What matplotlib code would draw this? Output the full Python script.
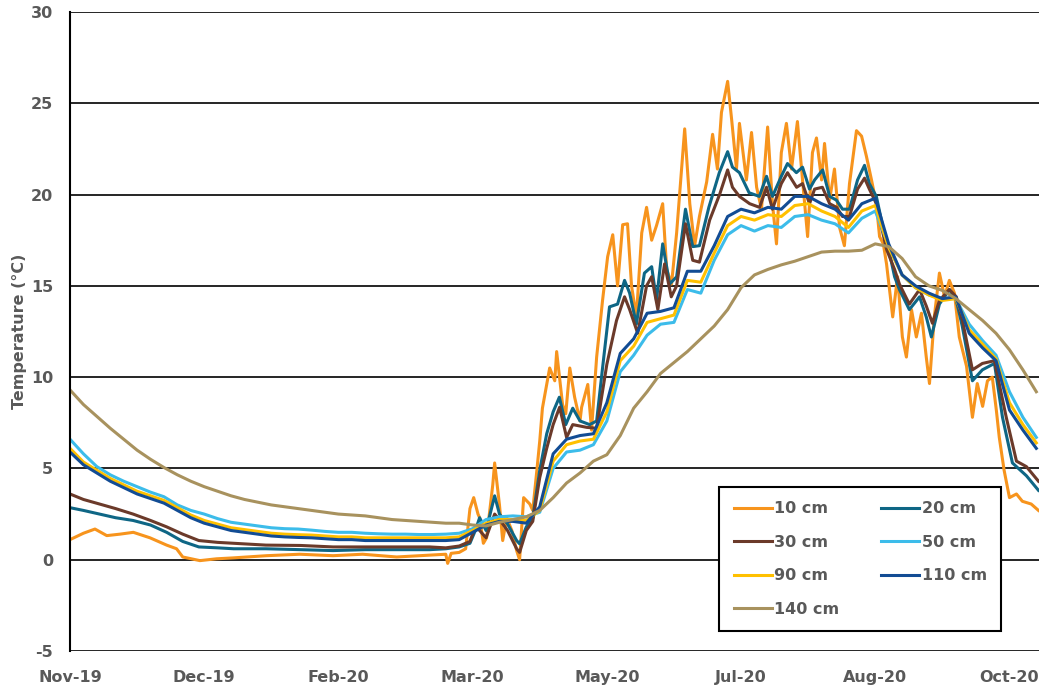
import matplotlib
matplotlib.use('Agg')
import matplotlib.pyplot as plt
import matplotlib.dates as mdates
import numpy as np
from datetime import datetime, timedelta

start = datetime(2019, 11, 1)

# shallow sensors: (day since 1 Nov 2019, temperature)
t10 = [0, 5, 9.3, 13.7, 18.6, 23.6, 29.8, 36, 39.7, 42, 48.4, 54.6, 60.8, 73.2, 85.6, 98, 109, 121.7, 134, 140,
       140.7, 142, 145, 147.4, 149, 150.4, 152, 152.6, 154, 155.2, 157.5, 158.2, 160, 161.2, 162.7, 164.6, 166.4,
       167.5, 169, 171.3, 172.4, 174, 175, 176, 178.7, 180.6, 181.3, 183.5, 184.7, 186.2, 188, 190, 190.6, 192.9,
       194.3, 196.2, 198.4, 200.3, 202.2, 204, 205.9, 207.7, 209.2, 211, 213, 214.8, 216.7, 218.5, 220.8, 222.3,
       224.1, 226, 229, 230.9, 232.7, 234.5, 237.2, 239.4, 241.2, 242.7, 245, 246.5, 248.3, 249.4, 252, 253.9,
       255.8, 257.6, 259.9, 261.7, 263.2, 265, 266.9, 268.8, 271, 272.9, 274.8, 276.6, 278.1, 280, 281.1, 283,
       284.8, 286.7, 288.5, 290.4, 293, 294.9, 296.7, 298.6, 300.4, 301.6, 303, 304.2, 305.3, 306.5, 308.3, 310.1,
       311.6, 313.5, 315.3, 317.2, 319, 320.2, 322, 323.9, 325.8, 327.6, 329.5, 331.3, 334, 336.2, 338, 340, 341.8,
       343.6, 345.1, 346.2, 348, 350, 352.6, 354.8, 358.1, 360.8]
v10 = [1.1, 1.45, 1.68, 1.32, 1.4, 1.5, 1.2, 0.8, 0.6, 0.15, -0.05, 0.05, 0.1, 0.22, 0.3, 0.22, 0.3, 0.15, 0.25, 0.3,
       -0.2, 0.35, 0.4, 0.6, 2.8, 3.4, 2.5, 2.3, 0.9, 1.2, 4.1, 5.3, 3.0, 1.05, 2.3, 1.6, 0.5,
       0.0, 3.4, 3.05, 2.7, 5.0, 6.5, 8.3, 10.5, 9.8, 11.4, 8.5, 8.0, 10.5, 8.9, 7.6, 8.35, 9.6,
       7.1, 11.1, 14.2, 16.6, 17.8, 15.0, 18.35, 18.4, 15.0, 13.3, 17.9, 19.3, 17.5, 18.3, 19.5, 15.9,
       15.1, 17.9, 23.6, 19.5, 17.2, 18.8, 20.7, 23.3, 21.4, 24.5, 26.2, 24.1, 21.4, 23.9, 20.8, 23.4,
       20.4, 19.2, 23.7, 19.5, 17.3, 22.3, 23.9, 21.4, 24.0, 20.8, 17.7, 22.3, 23.1, 20.8, 22.8, 19.7,
       21.4, 18.2, 17.2, 20.6, 23.5, 23.2, 22.1, 20.8, 19.5, 17.7, 17.3, 16.2, 14.8, 13.3, 15.5, 12.2,
       11.1, 13.7, 12.2, 13.5, 11.1, 9.65, 13.3, 15.7, 14.4, 15.3, 14.6, 12.2, 10.6, 7.8, 9.65, 8.4, 9.8,
       10.0, 8.2, 6.7, 4.9, 3.4, 3.6, 3.2, 3.05, 2.7]

t20 = [0, 5, 11, 17, 23.5, 30, 36, 42, 48, 55, 61, 73, 86, 98, 110, 122, 134, 140, 145, 149,
       151, 152.6, 155, 158.2, 160, 163, 166.4, 167.5, 170, 172.4, 175, 177.6, 180, 182.3, 184.7, 187.3, 190,
       193.6, 196.2, 198.4, 201, 204, 206.6, 208.5, 211, 214, 216.7, 218.5, 220.8, 223.4, 226, 229.3, 232,
       234.5, 238, 241.9, 245, 246.8, 249.4, 253, 256.8, 259.5, 261.7, 265, 267.3, 270.6, 272.9, 275.5, 277.4,
       280.4, 283, 285.5, 287.8, 290.4, 293.4, 296, 297.8, 300.4, 304.2, 305.3, 307.2, 309, 312.7, 316.5, 319,
       320.9, 323.9, 327.6, 330.2, 332.4, 336.2, 339.9, 344.4, 347.4, 351.1, 356.3, 360.8]
v20 = [2.85, 2.7, 2.5, 2.3, 2.15, 1.9, 1.5, 1.0, 0.7, 0.65, 0.6, 0.6, 0.55, 0.5, 0.55, 0.55, 0.55, 0.6, 0.7, 0.9,
       1.6, 2.3, 1.6, 3.5, 2.5, 1.96, 1.05, 0.87, 1.8, 2.3, 4.9, 6.9, 8.1, 8.9, 7.4, 8.3, 7.6,
       7.4, 7.6, 10.5, 13.85, 14.0, 15.3, 14.6, 12.9, 15.7, 16.05, 14.2, 17.3, 15.1, 15.5, 19.2, 17.15,
       17.2, 19.3, 21.2, 22.35, 21.5, 21.2, 20.1, 19.9, 21.0, 19.9, 21.0, 21.7, 21.2, 21.5, 20.3, 20.8,
       21.35, 19.9, 19.7, 19.2, 19.2, 20.8, 21.6, 20.6, 19.9, 17.3, 16.8, 15.5, 14.8, 13.7, 14.4, 13.3,
       12.2, 14.0, 14.8, 14.2, 12.8, 9.8, 10.4, 10.75, 7.8, 5.3, 4.6, 3.8]

t30 = [0, 5, 11, 17, 23.5, 30, 36, 42, 48, 55, 61, 73, 86, 98, 110, 122, 134, 140, 145, 149,
       151, 152.6, 155, 158.2, 160, 163, 166.4, 167.5, 170, 172.4, 175, 177.6, 180, 182.4, 185, 187.3, 192.5,
       196.2, 200, 203.6, 206.6, 208.5, 211.5, 214.8, 216.7, 219, 221.5, 224, 226, 229.3, 232, 234.5, 238.3,
       242, 245, 246.8, 249.4, 253.2, 256.9, 259.5, 261.7, 265, 267.3, 270.7, 272.9, 275.5, 277.4, 280.3, 283,
       285.6, 287.8, 290.4, 293.4, 296, 297.8, 300.4, 304.2, 307.2, 309, 312.7, 316.5, 319, 321.3, 323.9, 327.6,
       330.2, 332.5, 336.2, 339.9, 344.4, 348.8, 352.6, 356.3, 360.8]
v30 = [3.6, 3.3, 3.05, 2.8, 2.5, 2.15, 1.8, 1.4, 1.05, 0.95, 0.9, 0.8, 0.78, 0.7, 0.7, 0.7, 0.7, 0.65, 0.75, 1.0,
       1.8, 1.6, 1.2, 2.5, 2.2, 1.6, 0.6, 0.4, 1.6, 2.1, 4.5, 6.1, 7.4, 8.35, 6.7, 7.4, 7.25,
       7.2, 10.7, 13.1, 14.4, 13.7, 12.4, 15.0, 15.5, 13.7, 16.2, 14.4, 15.0, 18.4, 16.4, 16.3, 18.6,
       20.0, 21.35, 20.4, 19.9, 19.5, 19.3, 20.4, 19.2, 20.6, 21.2, 20.4, 20.6, 19.5, 20.3, 20.4, 19.5,
       19.3, 18.8, 18.8, 20.3, 20.9, 20.3, 19.5, 17.0, 15.9, 15.1, 14.0, 14.8, 13.9, 12.95, 14.2, 14.8,
       14.4, 13.1, 10.4, 10.75, 10.9, 7.8, 5.4, 5.1, 4.3]

# deeper sensors, every 5 days
t_deep = list(range(0, 361, 5))
v50 = [6.6, 5.8, 5.1, 4.65, 4.3, 4.0, 3.7, 3.45, 3.0, 2.7,
       2.5, 2.25, 2.05, 1.95, 1.85, 1.75, 1.7, 1.68, 1.62, 1.55,
       1.5, 1.5, 1.45, 1.42, 1.4, 1.4, 1.38, 1.38, 1.4, 1.45,
       1.7, 2.2, 2.35, 2.4, 2.35, 2.6, 5.0, 5.9, 6.0, 6.3,
       7.6, 10.3, 11.2, 12.3, 12.9, 13.0, 14.8, 14.6, 16.4, 17.8,
       18.3, 18.0, 18.3, 18.2, 18.8, 18.9, 18.6, 18.4, 17.9, 18.7,
       19.1, 17.2, 15.6, 14.9, 14.5, 14.3, 14.3, 12.9, 12.0, 11.2,
       9.2, 7.8, 6.7]
v90 = [6.1, 5.35, 4.9, 4.45, 4.1, 3.75, 3.5, 3.25, 2.85, 2.45,
       2.15, 1.95, 1.75, 1.65, 1.55, 1.45, 1.4, 1.37, 1.35, 1.3,
       1.25, 1.25, 1.2, 1.2, 1.2, 1.2, 1.2, 1.2, 1.2, 1.25,
       1.6, 2.0, 2.2, 2.2, 2.15, 2.7, 5.4, 6.3, 6.5, 6.6,
       8.1, 10.9, 11.7, 13.0, 13.2, 13.4, 15.3, 15.2, 16.8, 18.3,
       18.8, 18.6, 18.9, 18.8, 19.4, 19.5, 19.1, 18.8, 18.2, 19.1,
       19.4, 17.1, 15.6, 14.9, 14.5, 14.2, 14.3, 12.6, 11.8, 11.0,
       8.6, 7.4, 6.4]
v110 = [5.9, 5.2, 4.75, 4.3, 3.95, 3.6, 3.35, 3.1, 2.7, 2.3,
        2.0, 1.8, 1.6, 1.5, 1.4, 1.3, 1.25, 1.22, 1.2, 1.15,
        1.1, 1.1, 1.05, 1.05, 1.05, 1.05, 1.05, 1.05, 1.05, 1.1,
        1.5, 1.9, 2.1, 2.1, 2.0, 2.9, 5.8, 6.6, 6.8, 6.9,
        8.6, 11.3, 12.1, 13.5, 13.6, 13.8, 15.8, 15.8, 17.2, 18.8,
        19.2, 19.0, 19.3, 19.2, 19.9, 19.9, 19.5, 19.2, 18.6, 19.5,
        19.8, 17.3, 15.6, 15.0, 14.6, 14.3, 14.4, 12.4, 11.6, 10.9,
        8.2, 7.1, 6.1]
v140 = [9.3, 8.5, 7.85, 7.2, 6.6, 6.0, 5.5, 5.05, 4.65, 4.3,
        4.0, 3.75, 3.5, 3.3, 3.15, 3.0, 2.9, 2.8, 2.7, 2.6,
        2.5, 2.45, 2.4, 2.3, 2.2, 2.15, 2.1, 2.05, 2.0, 2.0,
        1.9, 1.85, 2.05, 2.2, 2.35, 2.7, 3.4, 4.2, 4.75, 5.4,
        5.75, 6.8, 8.3, 9.2, 10.2, 10.8, 11.4, 12.1, 12.8, 13.7,
        14.9, 15.6, 15.9, 16.15, 16.35, 16.6, 16.85, 16.9, 16.9, 16.95,
        17.3, 17.15, 16.5, 15.5, 15.0, 14.75, 14.3, 13.7, 13.1, 12.4,
        11.5, 10.4, 9.2]

labels = ['10 cm', '20 cm', '30 cm', '50 cm', '90 cm', '110 cm', '140 cm']
colors = ['#F7941D', '#0E6685', '#6B3A2A', '#3CBCEA', '#FFC000', '#124C94', '#A8925E']


def to_dates(days):
    return [start + timedelta(days=float(d)) for d in days]


series = [(t10, v10), (t20, v20), (t30, v30), (t_deep, v50), (t_deep, v90), (t_deep, v110), (t_deep, v140)]

plt.rcParams['font.family'] = ['DejaVu Sans']
plt.rcParams['font.weight'] = 'bold'
plt.rcParams['axes.unicode_minus'] = False

fig = plt.figure(figsize=(10.39, 6.88), dpi=100)
ax = fig.add_axes([70 / 1039, 37 / 688, 969 / 1039, 639 / 688])

lines = []
for (t, v), lab, c in zip(series, labels, colors):
    ln, = ax.plot(to_dates(t), v, color=c, lw=2.2, label=lab)
    lines.append(ln)

ax.set_ylim(-5, 30)
ax.set_yticks(np.arange(-5, 31, 5))
ax.set_xlim(start, start + timedelta(days=361))
ax.set_xticks(to_dates(range(0, 351, 50)))
ax.xaxis.set_major_formatter(mdates.DateFormatter('%b-%y'))

ax.yaxis.grid(True, color='black', lw=1.2)
ax.set_axisbelow(True)
for s in ['top', 'right', 'bottom']:
    ax.spines[s].set_visible(False)
ax.spines['left'].set_color('black')
ax.spines['left'].set_linewidth(1.5)
ax.tick_params(length=0, labelsize=11.5, labelcolor='#595959')
ax.tick_params(axis='x', pad=14)
ax.tick_params(axis='y', pad=12)
ax.set_ylabel('Temperature (°C)', fontsize=11.5, fontweight='bold', color='#595959', labelpad=3)

order = [0, 2, 4, 6, 1, 3, 5]
leg = ax.legend([lines[i] for i in order], [labels[i] for i in order], ncol=2,
                loc='upper left', bbox_to_anchor=(0.670, 0.2566),
                fancybox=False, edgecolor='black', framealpha=1,
                fontsize=11.5, labelcolor='#595959', handlelength=2.4,
                handletextpad=0.15, columnspacing=2.6, labelspacing=1.15,
                borderpad=0.9, borderaxespad=0)
leg.get_frame().set_linewidth(1.5)

plt.savefig('out.png', dpi=100)
